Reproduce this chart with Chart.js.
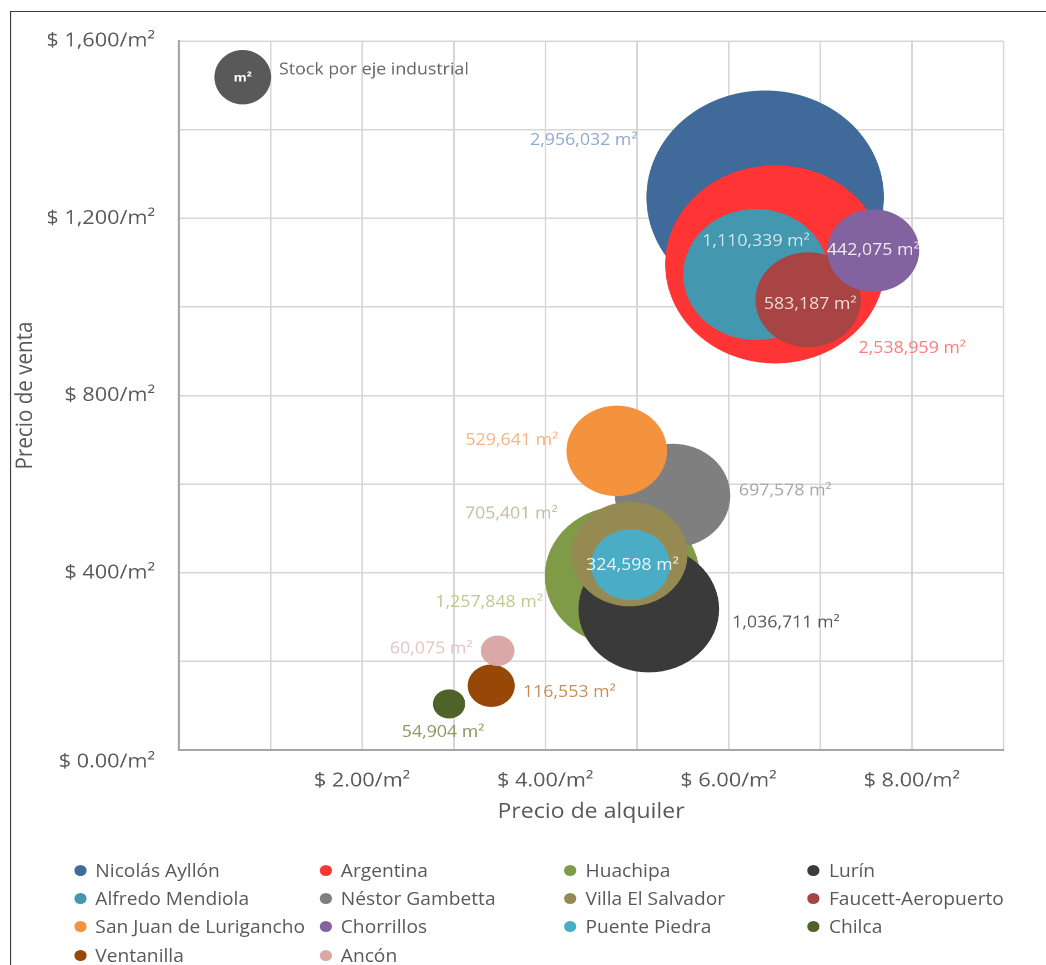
<!DOCTYPE html>
<html lang="es">
<head>
<meta charset="utf-8">
<title>Stock por eje industrial</title>
<script src="https://cdn.jsdelivr.net/npm/chart.js@4/dist/chart.umd.min.js"></script>
<style>
  html, body { margin: 0; padding: 0; background: #fff; width: 1046px; height: 965px; overflow: hidden; }
  /* the whole figure is laid out on a narrower stage and widened horizontally */
  #stage { position: absolute; left: 0; top: 0; width: 942px; height: 965px;
           transform: scaleX(1.1104); transform-origin: 0 0;
           font-family: 'Open Sans', sans-serif; }
  #frame { position: absolute; left: 9px; top: 11px; right: -20px; bottom: -20px;
           border-top: 1.5px solid #3a3a3a; border-left: 1.5px solid #3a3a3a; }
  #chart { position: absolute; left: 0; top: 0; }
  #legend { position: absolute; left: 0; top: 0; width: 942px; height: 965px; pointer-events: none; }
  .item { position: absolute; display: flex; align-items: center; height: 22px;
          font-size: 17.3px; color: #595959; white-space: nowrap; }
  .dot { width: 11px; height: 11px; border-radius: 50%; margin-right: 8.3px; flex: none; }
</style>
</head>
<body>
<div id="stage">
  <div id="frame"></div>
  <canvas id="chart" width="942" height="835"></canvas>
  <div id="legend"></div>
</div>
<script>
// Ejes industriales: precio de alquiler (x), precio de venta (y), stock en m² (tamaño)
const zones = ['Nicolás Ayllón', 'Argentina', 'Huachipa', 'Lurín',
               'Alfredo Mendiola', 'Néstor Gambetta', 'Villa El Salvador', 'Faucett-Aeropuerto',
               'San Juan de Lurigancho', 'Chorrillos', 'Puente Piedra', 'Chilca',
               'Ventanilla', 'Ancón'];
const rentPrice = [6.40, 6.51, 4.84, 5.13, 6.30, 5.39, 4.92, 6.87, 4.78, 7.58, 4.93, 2.95, 3.41, 3.48];
const salePrice = [1247, 1096, 393, 318, 1073, 574, 442, 1016, 675, 1127, 418, 104, 145, 224];
const stockM2 = [2956032, 2538959, 1257848, 1036711, 1110339, 697578, 705401, 583187,
                 529641, 442075, 324598, 54904, 116553, 60075];
const xTickValues = [2, 4, 6, 8];
const yTickValues = [0, 400, 800, 1200, 1600];

// styling
const fillColors = ['#406a9a', '#ff3535', '#7f9b47', '#3a3a3a',
                    '#4397ae', '#7f7f7f', '#958b52', '#a84444',
                    '#f5923e', '#8263a0', '#4bacc6', '#4f6228',
                    '#974806', '#dba8a8'];
const labelColors = ['#8ea9cf', '#ff7a7a', '#b8cc8c', '#555555',
                     '#d2e8ef', '#a6a6a6', '#c5bd96', '#f1d9d2',
                     '#f8b27e', '#f0ecf4', '#eef8fb', '#8a9a60',
                     '#c98c52', '#e6c2c2'];
// where each value label sits relative to its bubble centre: [align, dx, dy]
const labelPlacement = [['right', -114.9, -57], ['left', 75, 84.3], ['right', -71.4, 26.7], ['left', 75.1, 13.9],
                        ['center', 0, -33.3], ['left', 59.7, -4.5], ['right', -64.7, -40.2], ['center', 1.8, 4.5],
                        ['right', -52.7, -10.5], ['center', 0, 0], ['center', 1.8, 0.7], ['center', -5.4, 28.7],
                        ['left', 28.6, 6.9], ['right', -22.6, -1.7]];
const radiusPerSqrtM2 = 0.0622;   // bubble area proportional to stock

const fmt = new Intl.NumberFormat('en-US');
const fontFamily = "'Open Sans', sans-serif";
Chart.defaults.font.family = fontFamily;
Chart.defaults.color = '#595959';

const datasets = zones.map((name, i) => ({
  label: name,
  data: [{ x: rentPrice[i], y: salePrice[i], r: radiusPerSqrtM2 * Math.sqrt(stockM2[i]) }],
  backgroundColor: fillColors[i],
  borderWidth: 0,
  hoverBorderWidth: 0,
  order: zones.length - i
}));

const valueLabels = {
  id: 'valueLabels',
  afterDatasetsDraw(chart) {
    const ctx = chart.ctx;
    ctx.save();
    ctx.font = '16px ' + fontFamily;
    ctx.textBaseline = 'middle';
    chart.data.datasets.forEach((ds, i) => {
      const pt = chart.getDatasetMeta(i).data[0];
      const [align, dx, dy] = labelPlacement[i];
      ctx.textAlign = align;
      ctx.fillStyle = labelColors[i];
      ctx.fillText(fmt.format(stockM2[i]) + ' m²', pt.x + dx, pt.y + dy);
    });
    ctx.restore();
  }
};

const stockKey = {
  id: 'stockKey',
  afterDraw(chart) {
    const { ctx, chartArea } = chart;
    const cx = chartArea.left + 57.6, cy = chartArea.top + 36.2;
    ctx.save();
    ctx.fillStyle = '#595959';
    ctx.beginPath();
    ctx.ellipse(cx, cy, 25.5, 27.2, 0, 0, Math.PI * 2);
    ctx.fill();
    ctx.fillStyle = '#ffffff';
    ctx.font = 'bold 12px ' + fontFamily;
    ctx.textAlign = 'center';
    ctx.textBaseline = 'middle';
    ctx.fillText('m²', cx, cy + 1);
    ctx.fillStyle = '#666666';
    ctx.font = '16px ' + fontFamily;
    ctx.textAlign = 'left';
    ctx.fillText('Stock por eje industrial', cx + 32.7, cy - 7.2);
    ctx.restore();
  }
};

new Chart(document.getElementById('chart'), {
  type: 'bubble',
  data: { datasets },
  plugins: [valueLabels, stockKey],
  options: {
    responsive: false,
    animation: false,
    devicePixelRatio: 2,
    layout: { autoPadding: false, padding: { left: 8, top: 41, right: 38.4, bottom: 0 } },
    plugins: { legend: { display: false }, tooltip: { enabled: false } },
    scales: {
      x: {
        type: 'linear', min: 0, max: 9,
        afterFit: s => { s.height = 85; },
        ticks: {
          stepSize: 1, padding: 19, maxRotation: 0, autoSkip: false,
          font: { size: 19.5 }, color: '#595959',
          callback: v => xTickValues.includes(v) ? '$ ' + v.toFixed(2) + '/m²' : ''
        },
        grid: { color: '#d6d6d6', lineWidth: 1.5, drawTicks: false },
        border: { color: '#a6a6a6', width: 2 },
        title: { display: true, text: 'Precio de alquiler', font: { size: 20.8 }, color: '#595959',
                 padding: { top: 0, bottom: 10.5 } }
      },
      y: {
        type: 'linear', min: 0, max: 1600,
        afterFit: s => { s.width = 153; },
        ticks: {
          stepSize: 200, padding: 21.4, autoSkip: false,
          font: { size: 19.5 }, color: '#595959',
          // the zero label sits half a line below the axis
          callback: v => yTickValues.includes(v)
            ? (v === 0 ? ['', '$ 0.00/m²'] : '$ ' + fmt.format(v) + '/m²') : ''
        },
        grid: { color: '#d6d6d6', lineWidth: 1.5, drawTicks: false },
        border: { color: '#a6a6a6', width: 2 },
        title: { display: true, text: 'Precio de venta', font: { size: 20.6 }, color: '#595959',
                 padding: { top: 3, bottom: 0 } }
      }
    }
  }
});

// legend grid: four columns, row-major
const legend = document.getElementById('legend');
const colLeft = [66.6, 287.6, 508, 727.2];
const rowMid = [870, 898.3, 926.6, 955];
zones.forEach((name, i) => {
  const item = document.createElement('div');
  item.className = 'item';
  item.style.left = colLeft[i % 4] + 'px';
  item.style.top = (rowMid[Math.floor(i / 4)] - 11) + 'px';
  const dot = document.createElement('span');
  dot.className = 'dot';
  dot.style.background = fillColors[i];
  const txt = document.createElement('span');
  txt.textContent = name;
  item.appendChild(dot);
  item.appendChild(txt);
  legend.appendChild(item);
});
</script>
</body>
</html>
